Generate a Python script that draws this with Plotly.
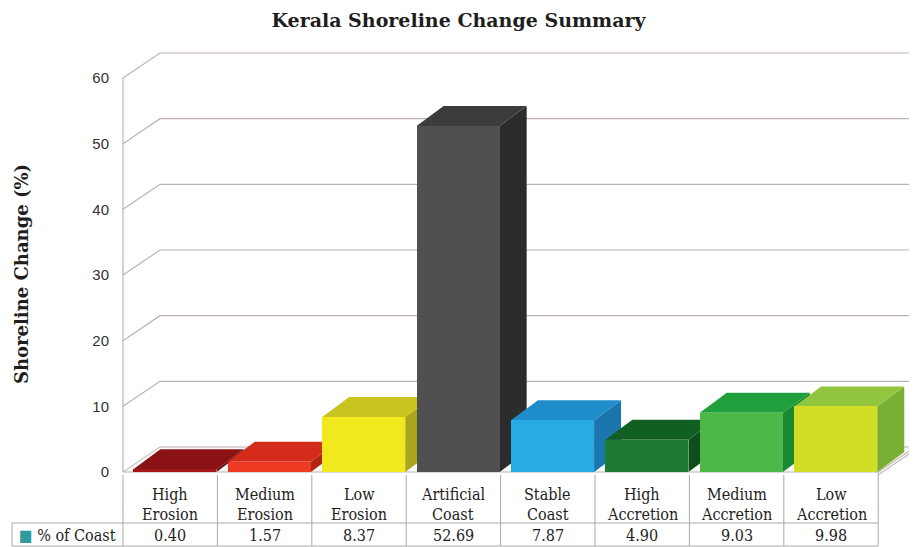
import plotly.graph_objects as go

# ---------------- data ----------------
categories = ["High Erosion", "Medium Erosion", "Low Erosion", "Artificial Coast",
              "Stable Coast", "High Accretion", "Medium Accretion", "Low Accretion"]
pct_of_coast = [0.40, 1.57, 8.37, 52.69, 7.87, 4.90, 9.03, 9.98]
series_name = "% of Coast"
y_ticks = [0, 10, 20, 30, 40, 50, 60]

front_colors = ["#a3171a", "#ee3a22", "#f2e81e", "#505052", "#2aaae2", "#1d7a31", "#4db848", "#d2de26"]
top_colors   = ["#8a1114", "#d42c1a", "#c9c41f", "#3c3c3e", "#1f8ccb", "#125f22", "#20a03c", "#92c63e"]
side_colors  = ["#6f0d10", "#b32415", "#a9a61c", "#2c2c2e", "#1a76ad", "#0e4e1b", "#1a8a32", "#78ae33"]

# ---------------- geometry (reference pixel layout -> data units) ----------------
VIEW_W, VIEW_H = 917, 547
PAGE_OFF = 8                       # default page body margin
W, H = VIEW_W - PAGE_OFF, VIEW_H - PAGE_OFF
X0_PX, SLOT_PX = 123.0, 94.4       # front-plane left edge and category slot width
Y0_PX, UNIT_PX = 472.0, 6.567      # front-plane zero line and px per value unit


def x_at(px):
    return (px - X0_PX) / SLOT_PX - 0.5


def y_at(px):
    return (Y0_PX - px) / UNIT_PX


wall_dx, wall_dy = 37 / SLOT_PX, 25 / UNIT_PX     # depth of floor/back wall
bar_dx, bar_dy = 27 / SLOT_PX, 20 / UNIT_PX       # depth of bars
bar_left, bar_right = -0.39, 0.49                 # front face extent within slot
n = len(categories)
grid_col = "#bfb2ad"
tbl_col = "#a8a8a8"
serif = "DejaVu Serif Condensed, DejaVu Serif, serif"

fig = go.Figure()
shapes = []

# floor slab
floor_path = (f"M{-0.5},{0} L{n-0.5},{0} L{n-0.5+wall_dx},{wall_dy} "
              f"L{-0.5+wall_dx},{wall_dy} Z")
shapes.append(dict(type="path", path=floor_path, xref="x", yref="y", layer="below",
                   fillcolor="#fafafa", line=dict(color=grid_col, width=1)))
slab = 3 / UNIT_PX
shapes.append(dict(type="path", xref="x", yref="y", layer="below",
                   path=(f"M{n-0.5},{0} L{n-0.5+wall_dx},{wall_dy} "
                         f"L{n-0.5+wall_dx},{wall_dy-slab} L{n-0.5},{-slab} Z"),
                   fillcolor="#eeeeee", line=dict(color=grid_col, width=1)))

# back-wall gridlines with left-wall diagonals
for v in y_ticks[1:]:
    shapes.append(dict(type="path", xref="x", yref="y", layer="below",
                       path=(f"M{-0.5},{v} L{-0.5+wall_dx},{v+wall_dy} "
                             f"L{n-0.5+wall_dx},{v+wall_dy}"),
                       line=dict(color=grid_col, width=1.2)))
# left wall front edge
shapes.append(dict(type="line", xref="x", yref="y", layer="below",
                   x0=-0.5, x1=-0.5, y0=0, y1=y_ticks[-1],
                   line=dict(color=grid_col, width=1.2)))

# bar sides and tops (drawn below the bar front faces)
for i, v in enumerate(pct_of_coast):
    xa, xb = i + bar_left, i + bar_right
    shapes.append(dict(type="path", xref="x", yref="y", layer="below",
                       path=(f"M{xb},{0} L{xb+bar_dx},{bar_dy} L{xb+bar_dx},{v+bar_dy} "
                             f"L{xb},{v} Z"),
                       fillcolor=side_colors[i], line=dict(width=0)))
    shapes.append(dict(type="path", xref="x", yref="y", layer="below",
                       path=(f"M{xa},{v} L{xb},{v} L{xb+bar_dx},{v+bar_dy} "
                             f"L{xa+bar_dx},{v+bar_dy} Z"),
                       fillcolor=top_colors[i], line=dict(width=0)))

# bar front faces
fig.add_trace(go.Bar(
    x=[i + (bar_left + bar_right) / 2 for i in range(n)],
    y=pct_of_coast,
    width=bar_right - bar_left,
    marker=dict(color=front_colors, line=dict(width=0)),
    name=series_name,
    hovertext=categories,
    showlegend=False,
))

# ---------------- data table ----------------
y_bottom = y_at(VIEW_H - 1)
y_row = y_at(523)
for k in range(n + 1):
    shapes.append(dict(type="line", xref="x", yref="y", x0=k - 0.5, x1=k - 0.5,
                       y0=-slab, y1=y_bottom, line=dict(color=tbl_col, width=1)))
shapes.append(dict(type="line", xref="x", yref="y", x0=x_at(12), x1=n - 0.5,
                   y0=y_row, y1=y_row, line=dict(color=tbl_col, width=1)))
shapes.append(dict(type="line", xref="x", yref="y", x0=x_at(12), x1=n - 0.5,
                   y0=y_bottom, y1=y_bottom, line=dict(color=tbl_col, width=1)))
shapes.append(dict(type="line", xref="x", yref="y", x0=x_at(12), x1=x_at(12),
                   y0=y_row, y1=y_bottom, line=dict(color=tbl_col, width=1)))

annotations = []
tbl_font = dict(family=serif, size=16, color="#1e1e1e")
for i, c in enumerate(categories):
    w1, w2 = c.split(" ", 1)
    annotations.append(dict(x=i, y=y_at(494), xref="x", yref="y", text=w1,
                            showarrow=False, font=tbl_font))
    annotations.append(dict(x=i, y=y_at(514), xref="x", yref="y", text=w2,
                            showarrow=False, font=tbl_font))
    annotations.append(dict(x=i, y=y_at(535), xref="x", yref="y",
                            text=f"{pct_of_coast[i]:.2f}", showarrow=False, font=tbl_font))
annotations.append(dict(x=x_at(17), y=y_at(535), xref="x", yref="y", xanchor="left",
                        text=f"<span style='color:#2e9a9c'>■</span> {series_name}",
                        showarrow=False, font=dict(family=serif, size=16, color="#1e1e1e")))

# y-axis title
annotations.append(dict(x=x_at(21), y=y_at(274), xref="x", yref="y", textangle=-90,
                        text="<b>Shoreline Change (%)</b>", showarrow=False,
                        font=dict(family="DejaVu Serif", size=18, color="#1e1e1e")))

fig.update_layout(
    width=W, height=H,
    margin=dict(l=0, r=0, t=0, b=0),
    paper_bgcolor="white", plot_bgcolor="white",
    title=dict(text="<b>Kerala Shoreline Change Summary</b>", x=0.5 - 4 / W, xanchor="center",
               y=1 - (20 - PAGE_OFF) / H, yanchor="middle", yref="container",
               font=dict(family="DejaVu Serif", size=19, color="#1e1e1e")),
    xaxis=dict(range=[x_at(PAGE_OFF), x_at(VIEW_W)], visible=False, fixedrange=True),
    yaxis=dict(range=[y_at(VIEW_H), y_at(PAGE_OFF)], anchor="free",
               position=(X0_PX - PAGE_OFF) / W,
               tickvals=y_ticks, showgrid=False, zeroline=False, showline=False,
               ticks="", ticklabelstandoff=14,
               tickfont=dict(family="Liberation Sans", size=15, color="#333333")),
    shapes=shapes,
    annotations=annotations,
    bargap=0,
)

fig.write_html("out.html")
